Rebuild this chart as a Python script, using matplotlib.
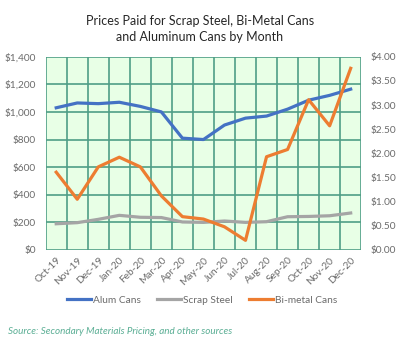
import matplotlib
matplotlib.use("Agg")
import matplotlib.pyplot as plt
import numpy as np

plt.rcParams['font.family'] = ['Lato', 'DejaVu Sans']

months = ["Oct-19", "Nov-19", "Dec-19", "Jan-20", "Feb-20", "Mar-20", "Apr-20", "May-20",
          "Jun-20", "Jul-20", "Aug-20", "Sep-20", "Oct-20", "Nov-20", "Dec-20"]
alum = [1030, 1065, 1060, 1070, 1040, 1000, 810, 800, 905, 955, 970, 1020, 1085, 1120, 1165]
steel = [190, 198, 222, 251, 237, 235, 203, 200, 210, 200, 205, 241, 243, 248, 268]
bimetal = [1.61, 1.05, 1.72, 1.92, 1.72, 1.12, 0.69, 0.64, 0.48, 0.20, 1.93, 2.08, 3.11, 2.57, 3.76]

grid_c = "#4f9e86"
text_c = "#6b6b6b"

fig = plt.figure(figsize=(4, 3.41), dpi=100)
ax = fig.add_axes([45.7 / 400, 1 - 250 / 341, 315.5 / 400, 193.3 / 341])
ax2 = ax.twinx()

x = np.arange(len(months))
ax.set_facecolor("#e8ffe6")
ax.set_xlim(-0.5, len(months) - 0.5)
ax.set_ylim(0, 1400)
ax2.set_ylim(0, 4)

# grid: vertical lines between months, horizontal at major ticks
for b in np.arange(-0.5, len(months), 1.0):
    ax.axvline(b, color=grid_c, lw=1.2, zorder=1)
for yv in range(0, 1401, 200):
    ax.axhline(yv, color=grid_c, lw=1.2, zorder=1)

l1, = ax.plot(x, alum, color="#4472c4", lw=2.3, label="Alum Cans", zorder=3)
l2, = ax.plot(x, steel, color="#a5a5a5", lw=2.3, label="Scrap Steel", zorder=3)
l3, = ax2.plot(x, bimetal, color="#ed7d31", lw=2.3, label="Bi-metal Cans", zorder=3)

for a in (ax, ax2):
    for s in a.spines.values():
        s.set_visible(False)
    a.tick_params(length=0, colors=text_c, labelsize=7.3)

ax.set_yticks(range(0, 1401, 200))
ax.set_yticklabels(["$0"] + ["${:,}".format(v) for v in range(200, 1401, 200)])
ax2.set_yticks(np.arange(0, 4.01, 0.5))
ax2.set_yticklabels(["${:.2f}".format(v) for v in np.arange(0, 4.01, 0.5)])
ax.tick_params(axis='y', pad=7)
ax2.tick_params(axis='y', pad=7)

ax.set_xticks(x)
ax.set_xticklabels(months, rotation=45, ha="right", rotation_mode="anchor")
ax.tick_params(axis='x', pad=4)

fig.text(0.5, 0.955, "Prices Paid for Scrap Steel, Bi-Metal Cans\nand Aluminum Cans by Month",
         ha="center", va="top", fontsize=9, color="#262626", linespacing=1.35)

fig.legend(handles=[l1, l2, l3], loc="center", bbox_to_anchor=(0.505, 1 - 300 / 341),
           ncol=3, frameon=False, fontsize=7.3, labelcolor=text_c, handlelength=2.4,
           handletextpad=0.15, columnspacing=1.6)

fig.text(8 / 400, 1 - 331 / 341, "Source: Secondary Materials Pricing, and other sources",
         ha="left", va="center", fontsize=7.1, style="italic", color="#5aae94")

fig.savefig("out.png", dpi=100)
